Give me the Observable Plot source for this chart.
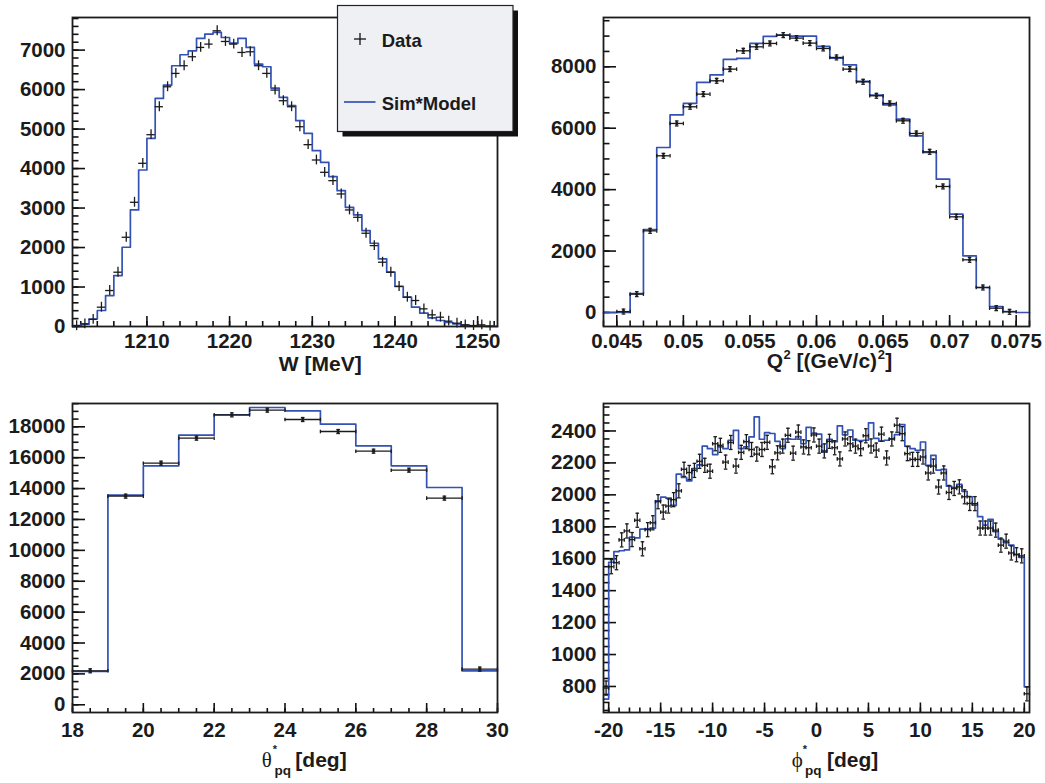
<!DOCTYPE html>
<html><head><meta charset="utf-8">
<script src="https://cdn.jsdelivr.net/npm/d3@7"></script>
<script src="https://cdn.jsdelivr.net/npm/@observablehq/plot@0.6"></script>
<style>
body{margin:0;background:#fff;}
#root{position:relative;width:1045px;height:783px;overflow:hidden;background:#fff;}
.panel{position:absolute;}
</style></head><body><div id="root"></div>
<script>
// ---------- W [MeV] ----------
const wLow = d3.range(1201, 1252, 1);
const wSim = [20, 60, 190, 405, 784, 1290, 2007, 2952, 3964, 4765,
  5777, 6115, 6604, 6882, 6983, 7295, 7405, 7447, 7320, 7177,
  7295, 7068, 6646, 6579, 6039, 5803, 5592, 5212, 4892, 4453,
  4158, 3795, 3441, 3019, 2825, 2429, 2108, 1712, 1375, 1020,
  742, 489, 337, 219, 152, 101, 67, 34, 17, 8, 5];
const wData = [20, 67, 180, 489, 911, 1375, 2260, 3146, 4133, 4858,
  5566, 6072, 6410, 6604, 6832, 7068, 7152, 7489, 7219, 7152,
  6941, 6958, 6604, 6410, 5988, 5718, 5566, 5060, 4605, 4217,
  3905, 3694, 3357, 2952, 2766, 2362, 2049, 1628, 1375, 1012,
  742, 658, 447, 295, 236, 135, 84, 42, 25, 42, 10];
const wXLabels = [1210, 1220, 1230, 1240, 1250];
const wYLabels = [0, 1000, 2000, 3000, 4000, 5000, 6000, 7000];

// ---------- Q^2 ----------
const qLow = d3.range(44, 76).map(i => i / 1000);
const qSim = [0, 0, 619, 2703, 5373, 6437, 6806, 7490, 7740, 8239,
  8271, 8760, 8988, 9031, 9000, 9000, 8662, 8282, 8065, 7522,
  7077, 6763, 6296, 5753, 5210, 4342, 3202, 1845, 814, 195, 33, 0];
const qData = [null, 30, 597, 2659, 5102, 6155, 6698, 7110, 7544, 7924,
  8521, 8651, 8760, 9031, 8934, 8771, 8597, 8304, 7924, 7512,
  7056, 6806, 6242, 5829, 5232, 4103, 3115, 1715, 814, 141, 22, null];
const qXLabels = [0.045, 0.05, 0.055, 0.06, 0.065, 0.07, 0.075];
const qYLabels = [0, 2000, 4000, 6000, 8000];

// ---------- theta*_pq ----------
const tLow = d3.range(18, 30, 1);
const tSim = [2158, 13574, 15473, 17458, 18775, 19250, 19034, 18170, 16768, 15473, 14070, 2201];
const tData = [2201, 13509, 15645, 17264, 18775, 19077, 18473, 17696, 16422, 15192, 13380, 2309];
const tXLabels = [18, 20, 22, 24, 26, 28, 30];
const tYLabels = [0, 2000, 4000, 6000, 8000, 10000, 12000, 14000, 16000, 18000];

// ---------- phi*_pq ----------
const pLow = d3.range(-20.5, 20.25, 0.5);
const pSim = [721, 1578, 1645, 1650, 1655, 1735, 1730, 1785, 1787, 1791,
  1963, 1986, 1980, 1934, 2130, 2110, 2088, 2164, 2188, 2305,
  2289, 2252, 2300, 2289, 2342, 2404, 2289, 2300, 2363, 2488,
  2348, 2390, 2384, 2335, 2290, 2350, 2348, 2365, 2320, 2423,
  2387, 2380, 2268, 2347, 2333, 2432, 2376, 2406, 2342, 2340,
  2342, 2451, 2354, 2336, 2342, 2350, 2377, 2440, 2305, 2289,
  2279, 2331, 2185, 2247, 2155, 2160, 2055, 2045, 2066, 2022,
  1988, 1935, 1863, 1810, 1847, 1770, 1722, 1700, 1685, 1628,
  1608, 798];
const pData = [790, 1550, 1575, 1718, 1774, 1720, 1841, 1662, 1782, 1825,
  1957, 1892, 1930, 1970, 2025, 2160, 2140, 2153, 2210, 2185,
  2148, 2320, 2310, 2205, 2328, 2180, 2266, 2333, 2284, 2255,
  2284, 2329, 2176, 2263, 2305, 2373, 2261, 2393, 2300, 2295,
  2375, 2305, 2275, 2335, 2295, 2225, 2350, 2320, 2305, 2289,
  2370, 2306, 2280, 2380, 2231, 2350, 2436, 2383, 2258, 2222,
  2222, 2237, 2137, 2180, 2049, 2137, 2015, 2040, 2050, 1988,
  1946, 1945, 1792, 1792, 1792, 1779, 1685, 1710, 1636, 1625,
  1618, 754];
const pXLabels = [-20, -15, -10, -5, 0, 5, 10, 15, 20];
const pYLabels = [800, 1000, 1200, 1400, 1600, 1800, 2000, 2200, 2400];

// ---------- drawing ----------
const FONT = '"Liberation Sans", Arial, Helvetica, sans-serif';
const BLUE = "#3352b3";
const INK = "#1b1b1b";
const hcap = {draw(ctx, size) { const r = Math.sqrt(size / Math.PI); ctx.moveTo(-r, 0); ctx.lineTo(r, 0); }};
const vcap = {draw(ctx, size) { const r = Math.sqrt(size / Math.PI); ctx.moveTo(0, -r); ctx.lineTo(0, r); }};

function panel(cfg) {
  const {width, height, mL, mR, mT, mB} = cfg;
  const fw = width - mL - mR, fh = height - mT - mB;
  const [x0, x1] = cfg.xDomain, [y0, y1] = cfg.yDomain;
  const kx = (x1 - x0) / fw, ky = (y1 - y0) / fh; // data units per pixel (tick lengths)
  const step = cfg.low.map((x, i) => ({x, y: cfg.sim[i]}));
  step.push({x: x1, y: cfg.sim[cfg.sim.length - 1]});
  const hw = cfg.bw / 2, e = cfg.err;
  const pts = cfg.low.map((x, i) => ({c: x + hw, v: cfg.data[i]})).filter(d => d.v != null);
  const tk = {stroke: "#111", strokeWidth: 1.6};
  const marks = [
    Plot.ruleX(cfg.xMinor, {x: d => d, y1: y0, y2: y0 + cfg.xMin * ky, ...tk}),
    Plot.ruleX(cfg.xLabels, {x: d => d, y1: y0, y2: y0 + cfg.xMaj * ky, ...tk}),
    Plot.ruleY(cfg.yMinor, {y: d => d, x1: x0, x2: x0 + 6.5 * kx, ...tk}),
    Plot.ruleY(cfg.yLabels, {y: d => d, x1: x0, x2: x0 + 13 * kx, ...tk}),
    Plot.line(step, {x: "x", y: "y", curve: "step-after", stroke: BLUE, strokeWidth: 1.7}),
    Plot.ruleY(pts, {y: "v", x1: d => d.c - hw, x2: d => d.c + hw, stroke: INK, strokeWidth: 1.3}),
    Plot.ruleX(pts, {x: "c", y1: d => d.v - e, y2: d => d.v + e, stroke: INK, strokeWidth: 1.3})
  ];
  if (cfg.caps) {
    marks.push(
      Plot.dot(pts, {x: "c", y: d => d.v + e, symbol: hcap, r: 1.8, stroke: INK, fill: "none", strokeWidth: 1.3}),
      Plot.dot(pts, {x: "c", y: d => d.v - e, symbol: hcap, r: 1.8, stroke: INK, fill: "none", strokeWidth: 1.3}),
      Plot.dot(pts, {x: d => d.c - hw, y: "v", symbol: vcap, r: 1.8, stroke: INK, fill: "none", strokeWidth: 1.3}),
      Plot.dot(pts, {x: d => d.c + hw, y: "v", symbol: vcap, r: 1.8, stroke: INK, fill: "none", strokeWidth: 1.3})
    );
  }
  if (cfg.dots) marks.push(Plot.dot(pts, {x: "c", y: "v", r: 1.7, fill: INK, stroke: "none"}));
  marks.push(
    Plot.axisX(cfg.xLabels, {anchor: "bottom", tickSize: 0, tickPadding: cfg.xPad, tickFormat: d => String(d), label: null, fill: INK}),
    Plot.axisY(cfg.yLabels, {anchor: "left", tickSize: 0, tickPadding: 7, tickFormat: d => String(d), label: null, fill: INK}),
    Plot.frame({stroke: INK, strokeWidth: 1.8})
  );
  const svg = Plot.plot({
    width, height, marginLeft: mL, marginRight: mR, marginTop: mT, marginBottom: mB,
    x: {domain: cfg.xDomain}, y: {domain: cfg.yDomain},
    style: {fontFamily: FONT, fontSize: "20.5px", fontWeight: "bold", background: "transparent", overflow: "visible"},
    marks
  });
  const div = document.createElement("div");
  div.className = "panel";
  div.style.left = cfg.left + "px"; div.style.top = cfg.top + "px";
  div.style.width = width + "px"; div.style.height = height + "px";
  div.appendChild(svg);
  document.getElementById("root").appendChild(div);
}

panel({left: 0, top: 0, width: 522, height: 390, mL: 72, mR: 25, mT: 17, mB: 64,
  xDomain: [1201, 1252.4], yDomain: [0, 7826], low: wLow, bw: 1, sim: wSim, data: wData, err: 125,
  xLabels: wXLabels, yLabels: wYLabels, xMinor: d3.range(1202, 1253, 2), yMinor: d3.range(0, 7801, 200),
  xMaj: 10, xMin: 5, xPad: 7, caps: false, dots: false});
panel({left: 522, top: 0, width: 523, height: 390, mL: 81, mR: 16, mT: 17, mB: 64,
  xDomain: [0.044, 0.076], yDomain: [-456, 9605], low: qLow, bw: 0.001, sim: qSim, data: qData, err: 80,
  xLabels: qXLabels, yLabels: qYLabels, xMinor: d3.range(44, 77).map(i => i / 1000), yMinor: d3.range(0, 9501, 500),
  xMaj: 11, xMin: 5.5, xPad: 7, caps: true, dots: true});
panel({left: 0, top: 390, width: 522, height: 393, mL: 72, mR: 25, mT: 13, mB: 71,
  xDomain: [18, 30], yDomain: [-500, 19510], low: tLow, bw: 1, sim: tSim, data: tData, err: 130,
  xLabels: tXLabels, yLabels: tYLabels, xMinor: d3.range(18, 30.01, 0.5), yMinor: d3.range(0, 19501, 500),
  xMaj: 9, xMin: 4, xPad: 10, caps: true, dots: true});
panel({left: 522, top: 390, width: 523, height: 393, mL: 81, mR: 16, mT: 13, mB: 71,
  xDomain: [-20.5, 20.5], yDomain: [637, 2572], low: pLow, bw: 0.5, sim: pSim, data: pData, err: 44,
  xLabels: pXLabels, yLabels: pYLabels, xMinor: d3.range(-20, 21, 1), yMinor: d3.range(650, 2551, 50),
  xMaj: 9.5, xMin: 4.5, xPad: 10, caps: true, dots: false});

// ---------- axis titles + legend ----------
const NS = "http://www.w3.org/2000/svg";
const root = document.getElementById("root");
const over = document.createElementNS(NS, "svg");
over.setAttribute("width", 1045); over.setAttribute("height", 783);
over.style.position = "absolute"; over.style.left = "0"; over.style.top = "0";
over.style.fontFamily = FONT; over.style.fontWeight = "bold"; over.style.fill = INK;
over.innerHTML = `
  <text x="361.7" y="370.7" text-anchor="end" font-size="21">W [MeV]</text>
  <text x="766.7" y="368.3" font-size="21">Q<tspan font-size="13" dx="0.5" dy="-9">2</tspan><tspan font-size="21" dy="9"> [(GeV/c)</tspan><tspan font-size="13" dx="0.5" dy="-9">2</tspan><tspan font-size="21" dx="0.5" dy="9">]</tspan></text>
  <text x="261.7" y="766.7" font-size="21" font-weight="normal" font-family="Liberation Serif, serif">θ</text>
  <text x="275" y="753" font-size="11" text-anchor="middle">*</text>
  <text x="274.5" y="774.5" font-size="13.5">pq</text>
  <text x="346.7" y="766.7" font-size="21" text-anchor="end">[deg]</text>
  <text x="791.7" y="766.7" font-size="21" font-weight="normal" font-family="Liberation Serif, serif">ϕ</text>
  <text x="805" y="753" font-size="11" text-anchor="middle">*</text>
  <text x="805" y="774.5" font-size="13.5">pq</text>
  <text x="878.3" y="766.7" font-size="21" text-anchor="end">[deg]</text>
  <g transform="translate(337.5,5.5)">
    <rect x="5" y="5" width="175.5" height="126" fill="#111"/>
    <rect x="0" y="0" width="175.5" height="126" fill="#eef0f3" stroke="#222" stroke-width="1.2"/>
    <line x1="16.5" x2="28.5" y1="33.5" y2="33.5" stroke="#111" stroke-width="1.3"/>
    <line x1="22.5" x2="22.5" y1="27.5" y2="39.5" stroke="#111" stroke-width="1.3"/>
    <text x="44.2" y="41" font-size="18.5">Data</text>
    <line x1="6.5" x2="38" y1="96.5" y2="96.5" stroke="${BLUE}" stroke-width="1.7"/>
    <text x="44.2" y="104.5" font-size="18.5">Sim*Model</text>
  </g>`;
root.appendChild(over);
</script>
</body></html>
